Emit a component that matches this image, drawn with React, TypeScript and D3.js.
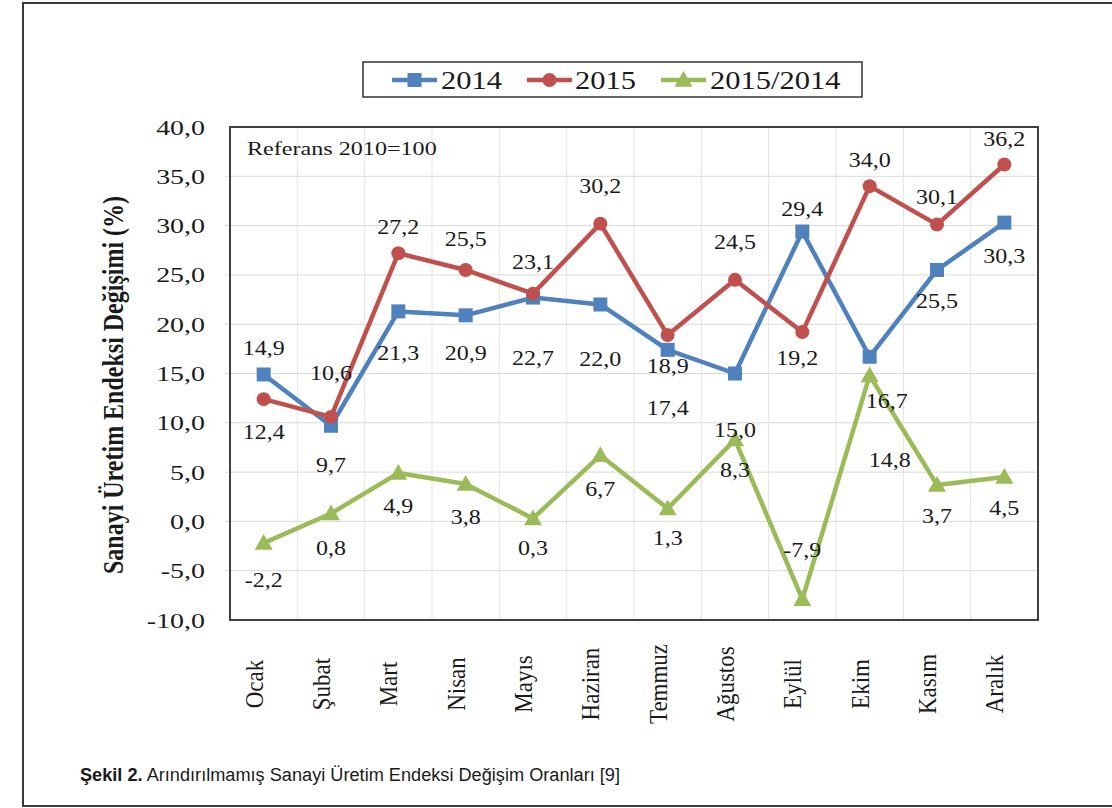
import React from "react";
import * as d3 from "d3";

const months = ["Ocak", "Şubat", "Mart", "Nisan", "Mayıs", "Haziran", "Temmuz", "Ağustos", "Eylül", "Ekim", "Kasım", "Aralık"];
const values2014 = [14.9, 9.7, 21.3, 20.9, 22.7, 22.0, 17.4, 15.0, 29.4, 16.7, 25.5, 30.3];
const values2015 = [12.4, 10.6, 27.2, 25.5, 23.1, 30.2, 18.9, 24.5, 19.2, 34.0, 30.1, 36.2];
const valuesRatio = [-2.2, 0.8, 4.9, 3.8, 0.3, 6.7, 1.3, 8.3, -7.9, 14.8, 3.7, 4.5];
const yTicks = [-10, -5, 0, 5, 10, 15, 20, 25, 30, 35, 40];
const seriesNames = ["2014", "2015", "2015/2014"];

// label nudges (dx, dy in px from the marker) – layout only
const nudge2014: [number, number][] = [[0, -26], [0, 40], [0, 42], [0, 38], [0, 61], [0, 55], [0, 59], [0, 57], [0, -22], [17, 45], [0, 32], [0, 34]];
const nudge2015: [number, number][] = [[0, 33], [0, -43], [0, -26], [0, -30], [0, -31], [0, -37], [0, 31], [0, -37], [-5, 26], [0, -26], [0, -27], [0, -25]];
const nudgeRatio: [number, number][] = [[0, 37], [0, 35], [0, 33], [0, 34], [0, 30], [0, 34], [0, 30], [0, 31], [0, -49], [20, 85], [0, 32], [0, 31]];

const W = 1112, H = 808;
const L = 230, R = 1038, T = 127, B = 620;
const SX = 1.27; // horizontal text stretch of the original
const SERIF = "'Liberation Serif', 'Times New Roman', serif";
const colors = ["#4F81BD", "#C0504D", "#9BBB59"];

const fmt = (v: number) => d3.format(".1f")(v).replace(".", ",").replace("−", "-");

function SText({ x, y, size, anchor = "middle", weight = "normal", rotate = 0, sx = SX, children, family = SERIF, fill = "#1a1a1a" }: any) {
  return (
    <text
      transform={`translate(${x},${y}) scale(${sx},1)${rotate ? ` rotate(${rotate})` : ""}`}
      fontFamily={family}
      fontSize={size}
      fontWeight={weight}
      textAnchor={anchor}
      fill={fill}
    >
      {children}
    </text>
  );
}

function Marker({ kind, x, y, color }: { kind: number; x: number; y: number; color: string }) {
  if (kind === 0) return <rect x={x - 7} y={y - 7} width={14} height={14} fill={color} />;
  if (kind === 1) return <circle cx={x} cy={y} r={7} fill={color} />;
  const s = 9;
  return <path d={`M${x},${y - s}L${x + s},${y + s * 0.75}L${x - s},${y + s * 0.75}Z`} fill={color} />;
}

export default function App() {
  const x = d3.scaleBand<string>().domain(months).range([L, R]);
  const bw = x.bandwidth();
  const cx = (i: number) => (x(months[i]) as number) + bw / 2;
  const y = d3.scaleLinear().domain([-10, 40]).range([B, T]);
  const line = d3.line<number>().x((_, i) => cx(i)).y((v) => y(v));

  const series = [values2014, values2015, valuesRatio];
  const nudges = [nudge2014, nudge2015, nudgeRatio];

  const legendItems = [
    { x0: 392, tx: 441 },
    { x0: 527, tx: 575 },
    { x0: 661, tx: 710 },
  ];

  return (
    <svg width={W} height={H} style={{ position: "absolute", left: 0, top: 0, background: "#fff" }}>
      <rect x={0} y={0} width={W} height={H} fill="#fff" />
      {/* outer frame (right side runs off the picture) */}
      <rect x={23} y={3} width={W + 20} height={803} fill="none" stroke="#3a3a3a" strokeWidth={2} />

      {/* gridlines */}
      {yTicks.filter((t) => t > -10 && t < 40).map((t) => (
        <line key={"h" + t} x1={L - 5} x2={R} y1={y(t)} y2={y(t)} stroke="#d9d9d9" strokeWidth={1} />
      ))}
      {months.slice(1).map((m) => (
        <line key={"v" + m} x1={x(m) as number} x2={x(m) as number} y1={T} y2={B} stroke="#e3e3e3" strokeWidth={1} />
      ))}

      {/* plot frame */}
      <rect x={L} y={T} width={R - L} height={B - T} fill="none" stroke="#404040" strokeWidth={2} />

      {/* y tick labels */}
      {yTicks.map((t) => (
        <SText key={"yt" + t} x={205} y={y(t) + 7.5} size={22} anchor="end">
          {fmt(t)}
        </SText>
      ))}

      {/* y axis title */}
      <SText x={123} y={385} size={24} weight="bold" rotate={-90}>
        Sanayi Üretim Endeksi Değişimi (%)
      </SText>

      {/* x labels */}
      {months.map((m, i) => (
        <SText key={"xl" + m} x={cx(i) - 1} y={684} size={23} rotate={-90} sx={1.12}>
          {m}
        </SText>
      ))}

      {/* reference note */}
      <SText x={247} y={155} size={19} anchor="start">
        Referans 2010=100
      </SText>

      {/* series lines */}
      {series.map((s, k) => (
        <path key={"l" + k} d={line(s) || ""} fill="none" stroke={colors[k]} strokeWidth={4.5} strokeLinejoin="round" />
      ))}
      {series.map((s, k) =>
        s.map((v, i) => <Marker key={`m${k}-${i}`} kind={k} x={cx(i)} y={y(v)} color={colors[k]} />)
      )}

      {/* data labels */}
      {series.map((s, k) =>
        s.map((v, i) => (
          <SText key={`t${k}-${i}`} x={cx(i) + nudges[k][i][0]} y={y(v) + nudges[k][i][1] + 6.5} size={20} sx={1.2}>
            {fmt(v)}
          </SText>
        ))
      )}

      {/* legend */}
      <rect x={363} y={62} width={499} height={35} fill="#fff" stroke="#333" strokeWidth={1.5} />
      {legendItems.map((it, k) => (
        <g key={"lg" + k}>
          <line x1={it.x0} x2={it.x0 + 45} y1={80} y2={80} stroke={colors[k]} strokeWidth={4.5} />
          <Marker kind={k} x={it.x0 + 22.5} y={80} color={colors[k]} />
          <SText x={it.tx} y={89} size={25} anchor="start" sx={1.22}>
            {seriesNames[k]}
          </SText>
        </g>
      ))}

      {/* caption */}
      <text x={80} y={781} fontFamily="'Liberation Sans', Arial, sans-serif" fontSize={18} fill="#1a1a1a" textLength={540} lengthAdjust="spacingAndGlyphs">
        <tspan fontWeight="bold">Şekil 2.</tspan> Arındırılmamış Sanayi Üretim Endeksi Değişim Oranları [9]
      </text>
    </svg>
  );
}
